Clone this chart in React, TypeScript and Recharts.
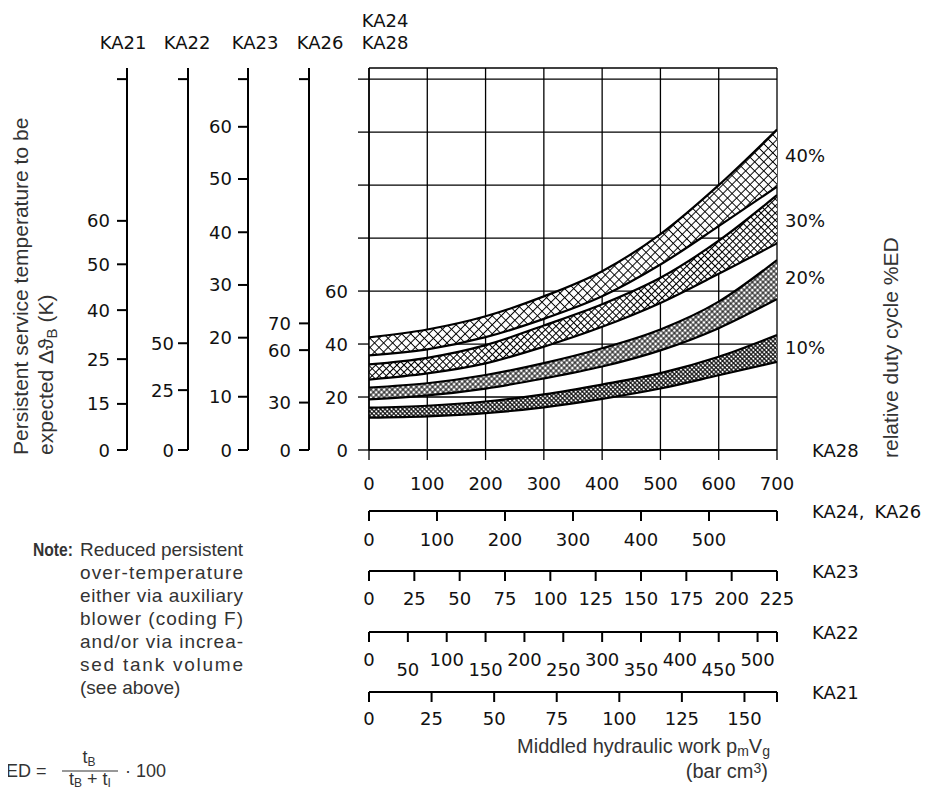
import React from "react";
import { ComposedChart, Area, XAxis, YAxis, CartesianGrid } from "recharts";

// hydraulic work (KA28 scale) where the band edges were read
const work = [0, 100, 200, 300, 400, 500, 600, 700];

// band edges in K, read on the KA24/KA28 temperature scale
const ed40Hi = [42.5, 45.5, 50.5, 58, 67.5, 81.5, 100, 121];
const ed40Lo = [35.7, 38, 42.6, 49.5, 58, 70, 84.5, 99.4];
const ed30Hi = [32.3, 34.8, 39.6, 47, 55, 65, 79, 96.2];
const ed30Lo = [26.6, 28.9, 32.7, 39, 46.5, 55.5, 66.5, 78];
const ed20Hi = [23.6, 25.2, 28.3, 32.8, 38.4, 45.5, 56, 71.7];
const ed20Lo = [19.1, 20.6, 23.2, 27, 31.5, 37.6, 46, 57];
const ed10Hi = [16, 16.7, 18.3, 21, 24.7, 29, 35.2, 43.4];
const ed10Lo = [12.2, 12.7, 13.9, 16.1, 19.3, 23.2, 28.2, 33.3];

// temperature scales: position on the KA28 scale and the label shown there
const ka28Pos = [0, 20, 40, 60, 80, 100, 120, 140];
const ka28Lab = ["0", "20", "40", "60", "", "", "", ""];
const ka26Pos = [0, 17.9, 37.7, 47.8, 140];
const ka26Lab = ["0", "30", "60", "70", ""];
const ka23Pos = [0, 20.1, 42.4, 62.3, 82.2, 102.3, 122, 140];
const ka23Lab = ["0", "10", "20", "30", "40", "50", "60", ""];
const ka22Pos = [0, 22.6, 40.3, 140];
const ka22Lab = ["0", "25", "50", ""];
const ka21Pos = [0, 17.4, 34.3, 52.8, 70.1, 86.5, 140];
const ka21Lab = ["0", "15", "25", "40", "50", "60", ""];
const tempTop = 144.2;

// work scales below the chart
const ka28Work = [0, 100, 200, 300, 400, 500, 600, 700];
const ka28WorkLab = ["0", "100", "200", "300", "400", "500", "600", "700"];
const ka24Work = [0, 100, 200, 300, 400, 500, 600];
const ka24WorkLab = ["0", "100", "200", "300", "400", "500", ""];
const ka23Work = [0, 25, 50, 75, 100, 125, 150, 175, 200, 225];
const ka23WorkLab = ["0", "25", "50", "75", "100", "125", "150", "175", "200", "225"];
const ka22Work = [0, 50, 100, 150, 200, 250, 300, 350, 400, 450, 500, 525];
const ka22WorkLab = ["0", "50", "100", "150", "200", "250", "300", "350", "400", "450", "500", ""];
const ka21Work = [0, 25, 50, 75, 100, 125, 150, 163];
const ka21WorkLab = ["0", "25", "50", "75", "100", "125", "150", ""];

const dutyLabels = ["40%", "30%", "20%", "10%"];

const rows = work.map((x, i) => ({
  x,
  b40: [ed40Lo[i], ed40Hi[i]],
  b30: [ed30Lo[i], ed30Hi[i]],
  b20: [ed20Lo[i], ed20Hi[i]],
  b10: [ed10Lo[i], ed10Hi[i]],
}));

const TICK = "'DejaVu Sans', sans-serif";
const SANS = "'Liberation Sans', Arial, Helvetica, sans-serif";
const GREY = "#333";

const yTick = (pos: number[], lab: string[]) => (p: any) => {
  const i = pos.indexOf(p.payload.value);
  return (
    <text x={p.x} y={p.y} textAnchor="end" dominantBaseline="central" fontFamily={TICK} fontSize={18} fill="#111">
      {lab[i] ?? ""}
    </text>
  );
};

const xTick = (pos: number[], lab: string[], off: number, offLow?: number) => (p: any) => {
  const i = pos.indexOf(p.payload.value);
  const dy = offLow !== undefined && i % 2 === 1 ? offLow : off;
  return (
    <text x={p.x} y={p.y + dy} textAnchor="middle" dominantBaseline="central" fontFamily={TICK} fontSize={18} fill="#111">
      {lab[i] ?? ""}
    </text>
  );
};

const hatch = (id: string, size: number, w: number) => (
  <pattern id={id} width={size} height={size} patternUnits="userSpaceOnUse" patternTransform="rotate(45)">
    <rect width={size} height={size} fill="#fff" />
    <path d={`M0 ${size / 2} H${size} M${size / 2} 0 V${size}`} stroke="#000" strokeWidth={w} />
  </pattern>
);

const axisLine = { stroke: "#000", strokeWidth: 2 };
const tickLine = { stroke: "#000", strokeWidth: 2 };

// axis ids are ordered so the first one alphabetically sits next to the plot
export default function App() {
  return (
    <div style={{ position: "relative", width: 931, height: 783 }}>
      <ComposedChart width={931} height={783} data={rows} margin={{ top: 60, right: 162, bottom: 39, left: 59 }}>
        <defs>
          {hatch("h40", 6.4, 1)}
          {hatch("h30", 5, 1)}
          {hatch("h20", 3.8, 1)}
          {hatch("h10", 3.1, 1)}
        </defs>
        <CartesianGrid xAxisId="xa" yAxisId="ya" stroke="#000" strokeWidth={1.3} />

        <YAxis yAxisId="ye" type="number" domain={[0, tempTop]} allowDataOverflow ticks={ka21Pos} interval={0}
          width={60} tickSize={10} tickMargin={7} axisLine={axisLine} tickLine={tickLine} tick={yTick(ka21Pos, ka21Lab)} />
        <YAxis yAxisId="yd" type="number" domain={[0, tempTop]} allowDataOverflow ticks={ka22Pos} interval={0}
          width={61} tickSize={10} tickMargin={4} axisLine={axisLine} tickLine={tickLine} tick={yTick(ka22Pos, ka22Lab)} />
        <YAxis yAxisId="yc" type="number" domain={[0, tempTop]} allowDataOverflow ticks={ka23Pos} interval={0}
          width={60} tickSize={10} tickMargin={6} axisLine={axisLine} tickLine={tickLine} tick={yTick(ka23Pos, ka23Lab)} />
        <YAxis yAxisId="yb" type="number" domain={[0, tempTop]} allowDataOverflow ticks={ka26Pos} interval={0}
          width={61} tickSize={10} tickMargin={8} axisLine={axisLine} tickLine={tickLine} tick={yTick(ka26Pos, ka26Lab)} />
        <YAxis yAxisId="ya" type="number" domain={[0, tempTop]} allowDataOverflow ticks={ka28Pos} interval={0}
          width={60} tickSize={11} tickMargin={10} axisLine={{ stroke: "#000", strokeWidth: 1.5 }} tickLine={{ stroke: "#000", strokeWidth: 1.3 }}
          tick={yTick(ka28Pos, ka28Lab)} />

        <XAxis xAxisId="xe" dataKey="x" type="number" domain={[0, 163]} allowDataOverflow ticks={ka21Work} interval={0}
          height={60} tickSize={10} tickMargin={0} axisLine={axisLine} tickLine={tickLine} tick={xTick(ka21Work, ka21WorkLab, 16)} />
        <XAxis xAxisId="xd" dataKey="x" type="number" domain={[0, 525]} allowDataOverflow ticks={ka22Work} interval={0}
          height={60} tickSize={10} tickMargin={0} axisLine={axisLine} tickLine={tickLine} tick={xTick(ka22Work, ka22WorkLab, 17, 27)} />
        <XAxis xAxisId="xc" dataKey="x" type="number" domain={[0, 225]} allowDataOverflow ticks={ka23Work} interval={0}
          height={61} tickSize={10} tickMargin={0} axisLine={axisLine} tickLine={tickLine} tick={xTick(ka23Work, ka23WorkLab, 17)} />
        <XAxis xAxisId="xb" dataKey="x" type="number" domain={[0, 600]} allowDataOverflow ticks={ka24Work} interval={0}
          height={60} tickSize={10} tickMargin={0} axisLine={axisLine} tickLine={tickLine} tick={xTick(ka24Work, ka24WorkLab, 18)} />
        <XAxis xAxisId="xa" dataKey="x" type="number" domain={[0, 700]} allowDataOverflow ticks={ka28Work} interval={0}
          height={61} tickSize={10} tickMargin={0} axisLine={{ stroke: "#000", strokeWidth: 1.5 }} tickLine={{ stroke: "#000", strokeWidth: 1.3 }}
          tick={xTick(ka28Work, ka28WorkLab, 23)} />

        <Area xAxisId="xa" yAxisId="ya" type="monotone" dataKey="b40" stroke="#000" strokeWidth={2.2} fill="url(#h40)" fillOpacity={1} isAnimationActive={false} />
        <Area xAxisId="xa" yAxisId="ya" type="monotone" dataKey="b30" stroke="#000" strokeWidth={2.2} fill="url(#h30)" fillOpacity={1} isAnimationActive={false} />
        <Area xAxisId="xa" yAxisId="ya" type="monotone" dataKey="b20" stroke="#000" strokeWidth={2.2} fill="url(#h20)" fillOpacity={1} isAnimationActive={false} />
        <Area xAxisId="xa" yAxisId="ya" type="monotone" dataKey="b10" stroke="#000" strokeWidth={2.2} fill="url(#h10)" fillOpacity={1} isAnimationActive={false} />
      </ComposedChart>

      <svg width={939} height={791} style={{ position: "absolute", left: -8, top: -8, pointerEvents: "none" }}>
        <g fontFamily={TICK} fontSize={18} fill="#111" textAnchor="middle" dominantBaseline="central">
          <text x={123} y={42}>KA21</text>
          <text x={187} y={42}>KA22</text>
          <text x={255} y={42}>KA23</text>
          <text x={320} y={42}>KA26</text>
          <text x={385} y={20}>KA24</text>
          <text x={385} y={42}>KA28</text>
        </g>
        <g fontFamily={TICK} fontSize={18} fill="#111" dominantBaseline="central">
          <text x={785} y={155}>{dutyLabels[0]}</text>
          <text x={785} y={220}>{dutyLabels[1]}</text>
          <text x={785} y={277}>{dutyLabels[2]}</text>
          <text x={785} y={347}>{dutyLabels[3]}</text>
          <text x={812} y={450}>KA28</text>
          <text x={812} y={511}>KA24,<tspan dx={10}>KA26</tspan></text>
          <text x={812} y={571}>KA23</text>
          <text x={812} y={632}>KA22</text>
          <text x={812} y={692}>KA21</text>
        </g>
        <g fontFamily={SANS} fontSize={21} fill={GREY}>
          <text transform="translate(28, 455) rotate(-90)">Persistent service temperature to be</text>
          <text transform="translate(53, 455) rotate(-90)">
            expected Δϑ<tspan dy={4} fontSize={15}>B</tspan><tspan dy={-4}> (K)</tspan>
          </text>
          <text transform="translate(898, 458) rotate(-90)">relative duty cycle %ED</text>
        </g>
        <g fontFamily={SANS} fontSize={20} fill={GREY}>
          <text x={770} y={753} textAnchor="end">
            Middled hydraulic work p<tspan dy={3} fontSize={14}>m</tspan><tspan dy={-3}>V</tspan><tspan dy={3} fontSize={14}>g</tspan>
          </text>
          <text x={768} y={778} textAnchor="end">
            (bar cm<tspan dy={-5} fontSize={14}>3</tspan><tspan dy={5}>)</tspan>
          </text>
        </g>
        <g fontFamily={SANS} fontSize={19} fill={GREY}>
          <text x={33} y={556} fontWeight="bold" fontSize={18} textLength={40} lengthAdjust="spacingAndGlyphs">Note:</text>
          <text x={80} y={556} textLength={163} lengthAdjust="spacing">Reduced persistent</text>
          <text x={80} y={579} textLength={163} lengthAdjust="spacing">over-temperature</text>
          <text x={80} y={602} textLength={163} lengthAdjust="spacing">either via auxiliary</text>
          <text x={80} y={625} textLength={163} lengthAdjust="spacing">blower (coding F)</text>
          <text x={80} y={648} textLength={163} lengthAdjust="spacing">and/or via increa-</text>
          <text x={80} y={671} textLength={163} lengthAdjust="spacing">sed tank volume</text>
          <text x={80} y={694}>(see above)</text>
        </g>
        <g fontFamily={SANS} fontSize={18} fill={GREY}>
          <text x={6} y={777}>ED =</text>
          <text x={89} y={763} textAnchor="middle">t<tspan dy={3} fontSize={12}>B</tspan></text>
          <line x1={62} x2={118} y1={771} y2={771} stroke={GREY} strokeWidth={1.2} />
          <text x={90} y={785} textAnchor="middle">t<tspan dy={2} fontSize={12}>B</tspan><tspan dy={-2}> + t</tspan><tspan dy={2} fontSize={12}>I</tspan></text>
          <text x={125} y={777}>· 100</text>
        </g>
      </svg>
    </div>
  );
}
